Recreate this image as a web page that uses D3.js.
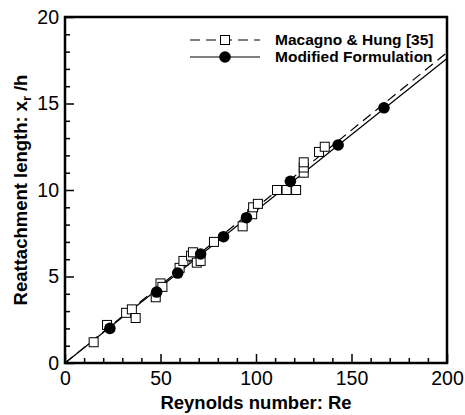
<!DOCTYPE html>
<html>
<head>
<meta charset="utf-8">
<script src="https://cdn.jsdelivr.net/npm/d3@7"></script>
<style>
  body { margin: 0; background: #fff; }
  text { font-family: "Liberation Sans", Arial, Helvetica, sans-serif; }
</style>
</head>
<body>
<div id="chart"></div>
<script>
// Data
// ==============================================================================
var seriesNames = ["Macagno & Hung [35]", "Modified Formulation"];

// Macagno & Hung experimental points (Re, xr/h)
var expRe  = [15, 22, 32, 35, 37, 47.5, 50, 51, 60, 62, 66, 67, 69, 71, 78, 93, 98, 98.5, 101, 111, 116, 121, 125, 125, 125, 133, 136];
var expXr  = [1.2, 2.2, 2.9, 3.1, 2.6, 3.8, 4.6, 4.4, 5.5, 5.9, 6.2, 6.4, 5.8, 5.9, 7.0, 7.9, 8.6, 9.0, 9.2, 10.0, 10.0, 10.0, 11.0, 11.3, 11.6, 12.2, 12.5];

// Modified formulation points
var modRe  = [23.5, 48, 59, 71, 83, 95, 118, 143, 167];
var modXr  = [2.0, 4.1, 5.2, 6.3, 7.3, 8.4, 10.5, 12.6, 14.75];

// Fit lines (end points)
var expLineRe = [0, 200];
var expLineXr = [0, 17.95];
var modLineRe = [0, 200];
var modLineXr = [0, 17.6];

var xTicks = [0, 50, 100, 150, 200];
var yTicks = [0, 5, 10, 15, 20];

// Canvas
// ==============================================================================
var svgWidth = 465, svgHeight = 415;
var margin = { top: 17, right: 18, bottom: 52, left: 65 };
var width = svgWidth - margin.left - margin.right;
var height = svgHeight - margin.top - margin.bottom;

var svg = d3.select("#chart").append("svg")
  .attr("width", svgWidth)
  .attr("height", svgHeight);

var chartGroup = svg.append("g")
  .attr("transform", `translate(${margin.left}, ${margin.top})`);

var x = d3.scaleLinear().domain([0, 200]).range([0, width]);
var y = d3.scaleLinear().domain([0, 20]).range([height, 0]);

// Ticks (inward), minor and major
// ==============================================================================
var xMinor = d3.range(0, 201, 10).filter(d => xTicks.indexOf(d) < 0);
var yMinor = d3.range(0, 21, 1).filter(d => yTicks.indexOf(d) < 0);

chartGroup.append("g")
  .attr("transform", `translate(0, ${height})`)
  .call(d3.axisTop(x).tickValues(xMinor).tickSize(5).tickFormat(""))
  .call(g => g.select(".domain").remove())
  .selectAll("line").attr("stroke-width", 1.5);

chartGroup.append("g")
  .attr("transform", `translate(0, ${height})`)
  .call(d3.axisTop(x).tickValues(xTicks).tickSize(9).tickFormat(""))
  .call(g => g.select(".domain").remove())
  .selectAll("line").attr("stroke-width", 1.5);

chartGroup.append("g")
  .call(d3.axisRight(y).tickValues(yMinor).tickSize(5).tickFormat(""))
  .call(g => g.select(".domain").remove())
  .selectAll("line").attr("stroke-width", 1.5);

chartGroup.append("g")
  .call(d3.axisRight(y).tickValues(yTicks).tickSize(9).tickFormat(""))
  .call(g => g.select(".domain").remove())
  .selectAll("line").attr("stroke-width", 1.5);

// Tick labels
chartGroup.append("g")
  .attr("transform", `translate(0, ${height})`)
  .call(d3.axisBottom(x).tickValues(xTicks).tickSize(0).tickPadding(8))
  .call(g => g.select(".domain").remove())
  .selectAll("text")
  .attr("font-size", 19.5)
  .attr("font-family", "Liberation Sans, Arial, sans-serif")
  .attr("fill", "#000");

chartGroup.append("g")
  .call(d3.axisLeft(y).tickValues(yTicks).tickSize(0).tickPadding(6))
  .call(g => g.select(".domain").remove())
  .selectAll("text")
  .attr("font-size", 19.5)
  .attr("font-family", "Liberation Sans, Arial, sans-serif")
  .attr("fill", "#000");

// Lines
// ==============================================================================
var line = d3.line().x(d => x(d[0])).y(d => y(d[1]));

chartGroup.append("path")
  .datum(d3.zip(expLineRe, expLineXr))
  .attr("d", line)
  .attr("fill", "none")
  .attr("stroke", "#000")
  .attr("stroke-width", 1.2)
  .attr("stroke-dasharray", "10,6");

chartGroup.append("path")
  .datum(d3.zip(modLineRe, modLineXr))
  .attr("d", line)
  .attr("fill", "none")
  .attr("stroke", "#000")
  .attr("stroke-width", 1.2);

// Markers
// ==============================================================================
var sq = 9;
chartGroup.selectAll(".exp")
  .data(d3.zip(expRe, expXr))
  .enter()
  .append("rect")
  .attr("class", "exp")
  .attr("x", d => x(d[0]) - sq / 2)
  .attr("y", d => y(d[1]) - sq / 2)
  .attr("width", sq)
  .attr("height", sq)
  .attr("fill", "#fff")
  .attr("stroke", "#000")
  .attr("stroke-width", 1);

chartGroup.selectAll(".mod")
  .data(d3.zip(modRe, modXr))
  .enter()
  .append("circle")
  .attr("class", "mod")
  .attr("cx", d => x(d[0]))
  .attr("cy", d => y(d[1]))
  .attr("r", 5.8)
  .attr("fill", "#000");

// Frame
chartGroup.append("rect")
  .attr("width", width)
  .attr("height", height)
  .attr("fill", "none")
  .attr("stroke", "#000")
  .attr("stroke-width", 2.5);

// Legend
// ==============================================================================
var legend = chartGroup.append("g").attr("transform", "translate(125, 23)");

legend.append("line")
  .attr("x1", 0).attr("x2", 70).attr("y1", 0).attr("y2", 0)
  .attr("stroke", "#000").attr("stroke-width", 1.2).attr("stroke-dasharray", "10,6");
legend.append("rect")
  .attr("x", 35 - sq / 2).attr("y", -sq / 2).attr("width", sq).attr("height", sq)
  .attr("fill", "#fff").attr("stroke", "#000");
legend.append("line")
  .attr("x1", 0).attr("x2", 70).attr("y1", 17).attr("y2", 17)
  .attr("stroke", "#000").attr("stroke-width", 1.2);
legend.append("circle")
  .attr("cx", 35).attr("cy", 17).attr("r", 5.8).attr("fill", "#000");

legend.selectAll(".legText")
  .data(seriesNames)
  .enter()
  .append("text")
  .attr("x", 85)
  .attr("y", (d, i) => i * 17)
  .attr("dy", "0.35em")
  .attr("font-size", 15.5)
  .attr("font-weight", "bold")
  .text(d => d);

// Axis titles
// ==============================================================================
svg.append("text")
  .attr("x", margin.left + width / 2)
  .attr("y", 409)
  .attr("text-anchor", "middle")
  .attr("font-size", 18.5)
  .attr("font-weight", "bold")
  .text("Reynolds number: Re");

var yTitle = svg.append("text")
  .attr("transform", `translate(27, ${margin.top + height / 2}) rotate(-90)`)
  .attr("text-anchor", "middle")
  .attr("font-size", 18.5)
  .attr("font-weight", "bold");
yTitle.append("tspan").text("Reattachment length: x");
yTitle.append("tspan").attr("font-size", 12).attr("dy", 4).text("r");
yTitle.append("tspan").attr("dy", -4).text(" /h");
</script>
</body>
</html>
